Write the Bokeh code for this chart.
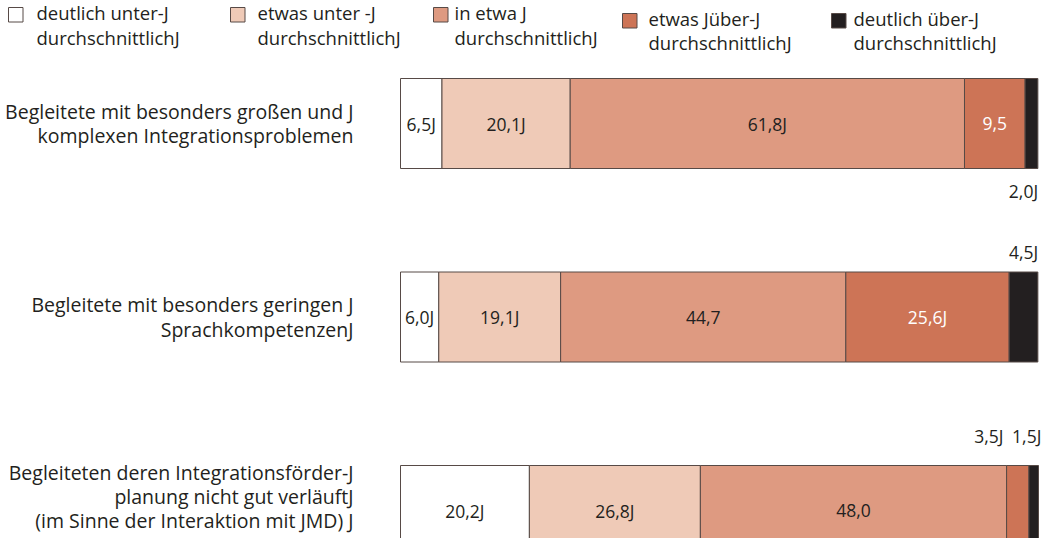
from bokeh.plotting import figure
from bokeh.models import ColumnDataSource, Range1d
from bokeh.embed import file_html
from bokeh.resources import INLINE
from bokeh.core.properties import value

# ---------------- data ----------------
categories = [
    "Begleitete mit besonders großen und J\nkomplexen Integrationsproblemen",
    "Begleitete mit besonders geringen J\nSprachkompetenzenJ",
    "Begleiteten deren Integrationsförder-J\nplanung nicht gut verläuftJ\n(im Sinne der Interaktion mit JMD) J",
]
series_names = [
    "deutlich unter-J\ndurchschnittlichJ",
    "etwas unter -J\ndurchschnittlichJ",
    "in etwa J\ndurchschnittlichJ",
    "etwas Jüber-J\ndurchschnittlichJ",
    "deutlich über-J\ndurchschnittlichJ",
]
deutlich_unter = [6.5, 6.0, 20.2]
etwas_unter = [20.1, 19.1, 26.8]
in_etwa = [61.8, 44.7, 48.0]
etwas_ueber = [9.5, 25.6, 3.5]
deutlich_ueber = [2.0, 4.5, 1.5]
value_labels = [
    ["6,5J", "20,1J", "61,8J", "9,5", "2,0J"],
    ["6,0J", "19,1J", "44,7", "25,6J", "4,5J"],
    ["20,2J", "26,8J", "48,0", "3,5J", "1,5J"],
]

# ---------------- style ----------------
colors = ["#FFFFFF", "#EFCAB7", "#DE9A81", "#CD7456", "#231F20"]
TXT = "#231F20"
label_colors = [TXT, TXT, TXT, "#FFFFFF", TXT]
FONT = value("Open Sans")
W, H = 1045, 538
X0 = 400.0      # px of 0 %
PXU = 6.38      # px per %
Y0 = 123.0      # px of top bar centre
PITCH = 193.5   # px between bars


def px2x(px):
    return (px - X0) / PXU


def px2y(py):
    return 2 - (py - Y0) / PITCH


p = figure(width=W, height=H, output_backend="svg", toolbar_location=None,
           x_range=Range1d(px2x(0), px2x(W)), y_range=Range1d(px2y(H), px2y(0)),
           min_border=0, outline_line_color=None, background_fill_color="white",
           border_fill_color="white")
p.axis.visible = False
p.grid.visible = False

keys = ["s0", "s1", "s2", "s3", "s4"]
series = [deutlich_unter, etwas_unter, in_etwa, etwas_ueber, deutlich_ueber]
ypos = [2 - i for i in range(len(categories))]
src = ColumnDataSource(dict(y=ypos, **{k: v for k, v in zip(keys, series)}))
p.hbar_stack(keys, y="y", height=90 / PITCH, color=colors, source=src,
             line_color="#574a46", line_width=1)

# value labels (outside ones get a pixel offset)
outside = {(0, 4): (-8, 67), (1, 4): (0, -65), (2, 3): (-29, -75), (2, 4): (-7, -75)}
lx, ly, lt, lc, xo, yo = [], [], [], [], [], []
for ci in range(len(categories)):
    left = 0.0
    for si in range(len(series)):
        v = series[si][ci]
        lx.append(left + v / 2)
        ly.append(ypos[ci])
        lt.append(value_labels[ci][si])
        dx, dy = outside.get((ci, si), (0, 0))
        lc.append(TXT if (ci, si) in outside else label_colors[si])
        xo.append(dx)
        yo.append(dy)
        left += v
p.text(x="x", y="y", text="t", text_color="c", x_offset="xo", y_offset="yo",
       source=ColumnDataSource(dict(x=lx, y=ly, t=lt, c=lc, xo=xo, yo=yo)),
       text_font=FONT, text_font_size="17.5px", text_align="center",
       text_baseline="middle")

# category labels
cat_dy = [0, 0, -14]
p.text(x=[px2x(353)] * 3, y=ypos, text=categories, y_offset=cat_dy,
       text_font=FONT, text_font_size="19.5px", text_align="right",
       text_baseline="middle", text_color=TXT, text_line_height=0.9)

# legend (manual)
leg_sq_x = [8, 230, 433, 622, 831]
leg_sq_y = [7, 7, 7, 13, 13]
leg_tx_x = [36, 257, 454, 648, 853]
leg_tx_y = [24.5, 24.5, 24.5, 30, 30]
SQ = 14.5
for i in range(5):
    p.rect(x=[px2x(leg_sq_x[i] + SQ / 2)], y=[px2y(leg_sq_y[i] + SQ / 2)],
           width=SQ / PXU, height=SQ / PITCH, fill_color=colors[i],
           line_color="#574a46", line_width=1)
    p.text(x=[px2x(leg_tx_x[i])], y=[px2y(leg_tx_y[i])],
           text=[series_names[i]], text_font=FONT, text_font_size="18.5px",
           text_align="left", text_baseline="middle", text_color=TXT,
           text_line_height=0.97)

open("out.html", "w").write(file_html(p, INLINE))
